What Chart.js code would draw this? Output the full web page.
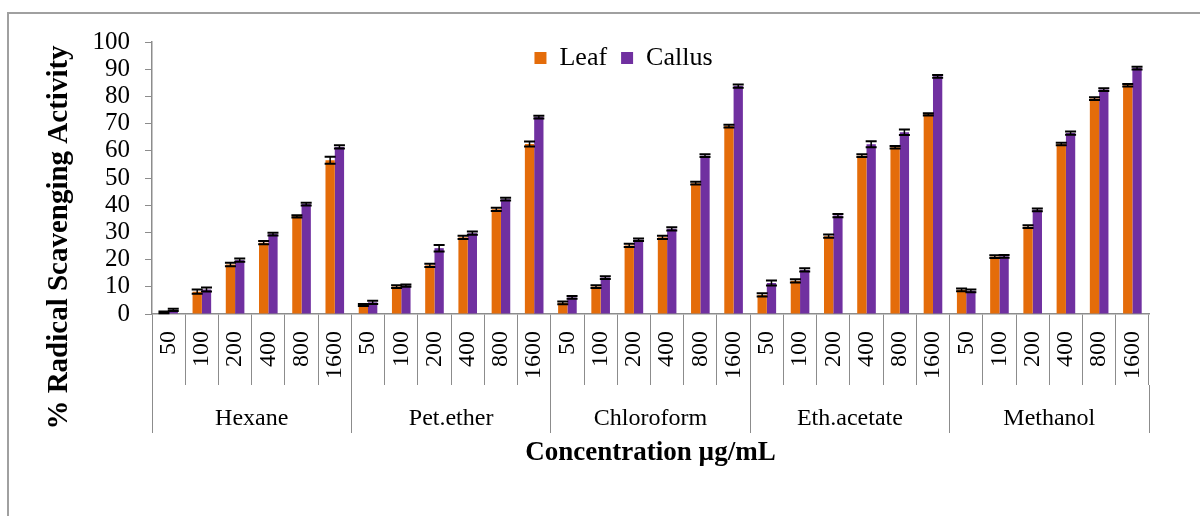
<!DOCTYPE html>
<html>
<head>
<meta charset="utf-8">
<script src="https://cdn.jsdelivr.net/npm/chart.js@4.4.0/dist/chart.umd.min.js"></script>
<style>
html,body{margin:0;padding:0;background:#fff;overflow:hidden}
#frame{position:absolute;left:7px;top:12px;width:1300px;height:700px;border:2px solid #a0a0a0}
#wrap{position:absolute;left:0;top:0;width:1200px;height:516px}
</style>
</head>
<body>
<div id="frame"></div>
<div id="wrap"><canvas id="c" width="1200" height="516"></canvas></div>
<script>
// ── data ───────────────────────────────────────────────────
const groups = ['Hexane', 'Pet.ether', 'Chloroform', 'Eth.acetate', 'Methanol'];
const concs = ['50', '100', '200', '400', '800', '1600'];

const leafVals = [
  0.6, 8.2, 18.2, 26.2, 35.9, 56.5,   // Hexane
  3.3, 10.1, 17.9, 28.2, 38.5, 62.5,  // Pet.ether
  4.1, 10.1, 25.2, 28.2, 48.1, 69.1,  // Chloroform
  7.0, 12.2, 28.6, 58.2, 61.3, 73.4,  // Eth.acetate
  8.9, 21.1, 32.1, 62.5, 79.2, 84.1   // Methanol
];
const callusVals = [
  1.5, 9.0, 19.8, 29.4, 40.4, 61.4,
  4.3, 10.4, 24.2, 29.7, 42.2, 72.4,
  6.1, 13.4, 27.3, 31.3, 58.2, 83.8,
  11.4, 16.2, 36.2, 62.4, 66.8, 87.4,
  8.5, 21.2, 38.3, 66.5, 82.5, 90.4
];
const leafErr = [
  0.3, 0.8, 0.6, 0.6, 0.4, 1.3,
  0.4, 0.5, 0.6, 0.6, 0.6, 0.9,
  0.5, 0.5, 0.6, 0.6, 0.5, 0.5,
  0.6, 0.6, 0.6, 0.5, 0.5, 0.4,
  0.5, 0.5, 0.5, 0.5, 0.5, 0.5
];
const callusErr = [
  0.4, 0.7, 0.6, 0.5, 0.5, 0.6,
  0.6, 0.4, 1.2, 0.6, 0.5, 0.5,
  0.5, 0.5, 0.5, 0.6, 0.5, 0.6,
  0.9, 0.6, 0.6, 1.1, 1.0, 0.5,
  0.5, 0.5, 0.5, 0.6, 0.5, 0.5
];
const yTicks = [0, 10, 20, 30, 40, 50, 60, 70, 80, 90, 100];

// one x label per bar pair
const labels = [];
groups.forEach(() => concs.forEach(c => labels.push(c)));

const SERIF = "'Liberation Serif', 'Times New Roman', serif";
const AXIS = '#8c8c8c';

// ── error bars ────────────────────────────────────────────
const errorBars = {
  id: 'errorBars',
  afterDatasetsDraw(chart) {
    const ctx = chart.ctx, y = chart.scales.y;
    chart.data.datasets.forEach((ds, i) => {
      const meta = chart.getDatasetMeta(i);
      meta.data.forEach((bar, j) => {
        const v = ds.data[j], e = ds.err[j];
        const top = y.getPixelForValue(v + e), bot = y.getPixelForValue(v - e);
        ctx.save();
        ctx.strokeStyle = '#000';
        ctx.lineWidth = 1.5;
        ctx.beginPath();
        ctx.moveTo(bar.x, top); ctx.lineTo(bar.x, bot);
        ctx.stroke();
        ctx.lineWidth = 2;
        ctx.beginPath();
        ctx.moveTo(bar.x - 5.5, top); ctx.lineTo(bar.x + 5.5, top);
        ctx.moveTo(bar.x - 5.5, bot); ctx.lineTo(bar.x + 5.5, bot);
        ctx.stroke();
        ctx.restore();
      });
    });
  }
};

// y title centred on plot + category rows, like the original
const yTitle = {
  id: 'yTitle',
  afterDraw(chart) {
    const ctx = chart.ctx, x2 = chart.scales.x2;
    const cy = (chart.chartArea.top + x2.top + x2.options.grid.tickLength) / 2;
    ctx.save();
    ctx.translate(60, cy);
    ctx.rotate(-Math.PI / 2);
    ctx.font = 'bold 29px ' + SERIF;
    ctx.fillStyle = '#000';
    ctx.textAlign = 'center';
    ctx.textBaseline = 'middle';
    ctx.fillText('% Radical Scavenging Activity', 0, 0);
    ctx.restore();
  }
};

// legend is laid out on top, then moved down into the plot area
const legendShift = {
  id: 'legendShift',
  afterLayout(chart) {
    const lg = chart.legend;
    if (!lg) return;
    lg.left -= 27; lg.right -= 27;
    lg.top += 39; lg.bottom += 39;
    lg.adjustHitBoxes();
  }
};

new Chart(document.getElementById('c'), {
  type: 'bar',
  data: {
    labels,
    datasets: [
      { label: 'Leaf', data: leafVals, err: leafErr, backgroundColor: '#E46C0A', borderWidth: 0 },
      { label: 'Callus', data: callusVals, err: callusErr, backgroundColor: '#7030A0', borderWidth: 0 }
    ]
  },
  options: {
    responsive: false,
    animation: false,
    layout: { padding: { left: 0, right: 51, top: -8, bottom: 43 } },
    datasets: { bar: { categoryPercentage: 0.56, barPercentage: 1.0 } },
    plugins: {
      legend: {
        position: 'top', fullSize: false,
        labels: { boxWidth: 12, boxHeight: 12, padding: 14, color: '#000', font: { family: SERIF, size: 26 } }
      },
      tooltip: { enabled: false }
    },
    scales: {
      y: {
        min: 0, max: 100,
        afterBuildTicks: s => { s.ticks = yTicks.map(v => ({ value: v })); },
        afterFit: s => { s.width = 152; },
        grid: { drawOnChartArea: false, tickLength: 7, color: AXIS },
        border: { color: AXIS, width: 1.5 },
        ticks: { autoSkip: false, padding: 15, color: '#000', font: { family: SERIF, size: 25 } }
      },
      x: {
        position: 'bottom', weight: 0,
        afterFit: s => { s.height = 71; },
        grid: { offset: true, drawOnChartArea: false, tickLength: 71, color: AXIS },
        border: { color: AXIS, width: 1.5 },
        ticks: { autoSkip: false, minRotation: 90, maxRotation: 90, padding: -54, color: '#000', font: { family: SERIF, size: 24 } }
      },
      x2: {
        type: 'category', labels: groups, position: 'bottom', weight: 1, offset: true,
        afterFit: s => { s.height = 88; },
        grid: { offset: true, drawOnChartArea: false, tickLength: 48, color: AXIS },
        border: { display: false },
        ticks: { autoSkip: false, maxRotation: 0, padding: -29, color: '#000', font: { family: SERIF, size: 24 } },
        title: { display: true, text: 'Concentration µg/mL', color: '#000', padding: { top: 0, bottom: 4 }, font: { family: SERIF, size: 27, weight: 'bold' } }
      }
    }
  },
  plugins: [errorBars, yTitle, legendShift]
});
</script>
</body>
</html>
